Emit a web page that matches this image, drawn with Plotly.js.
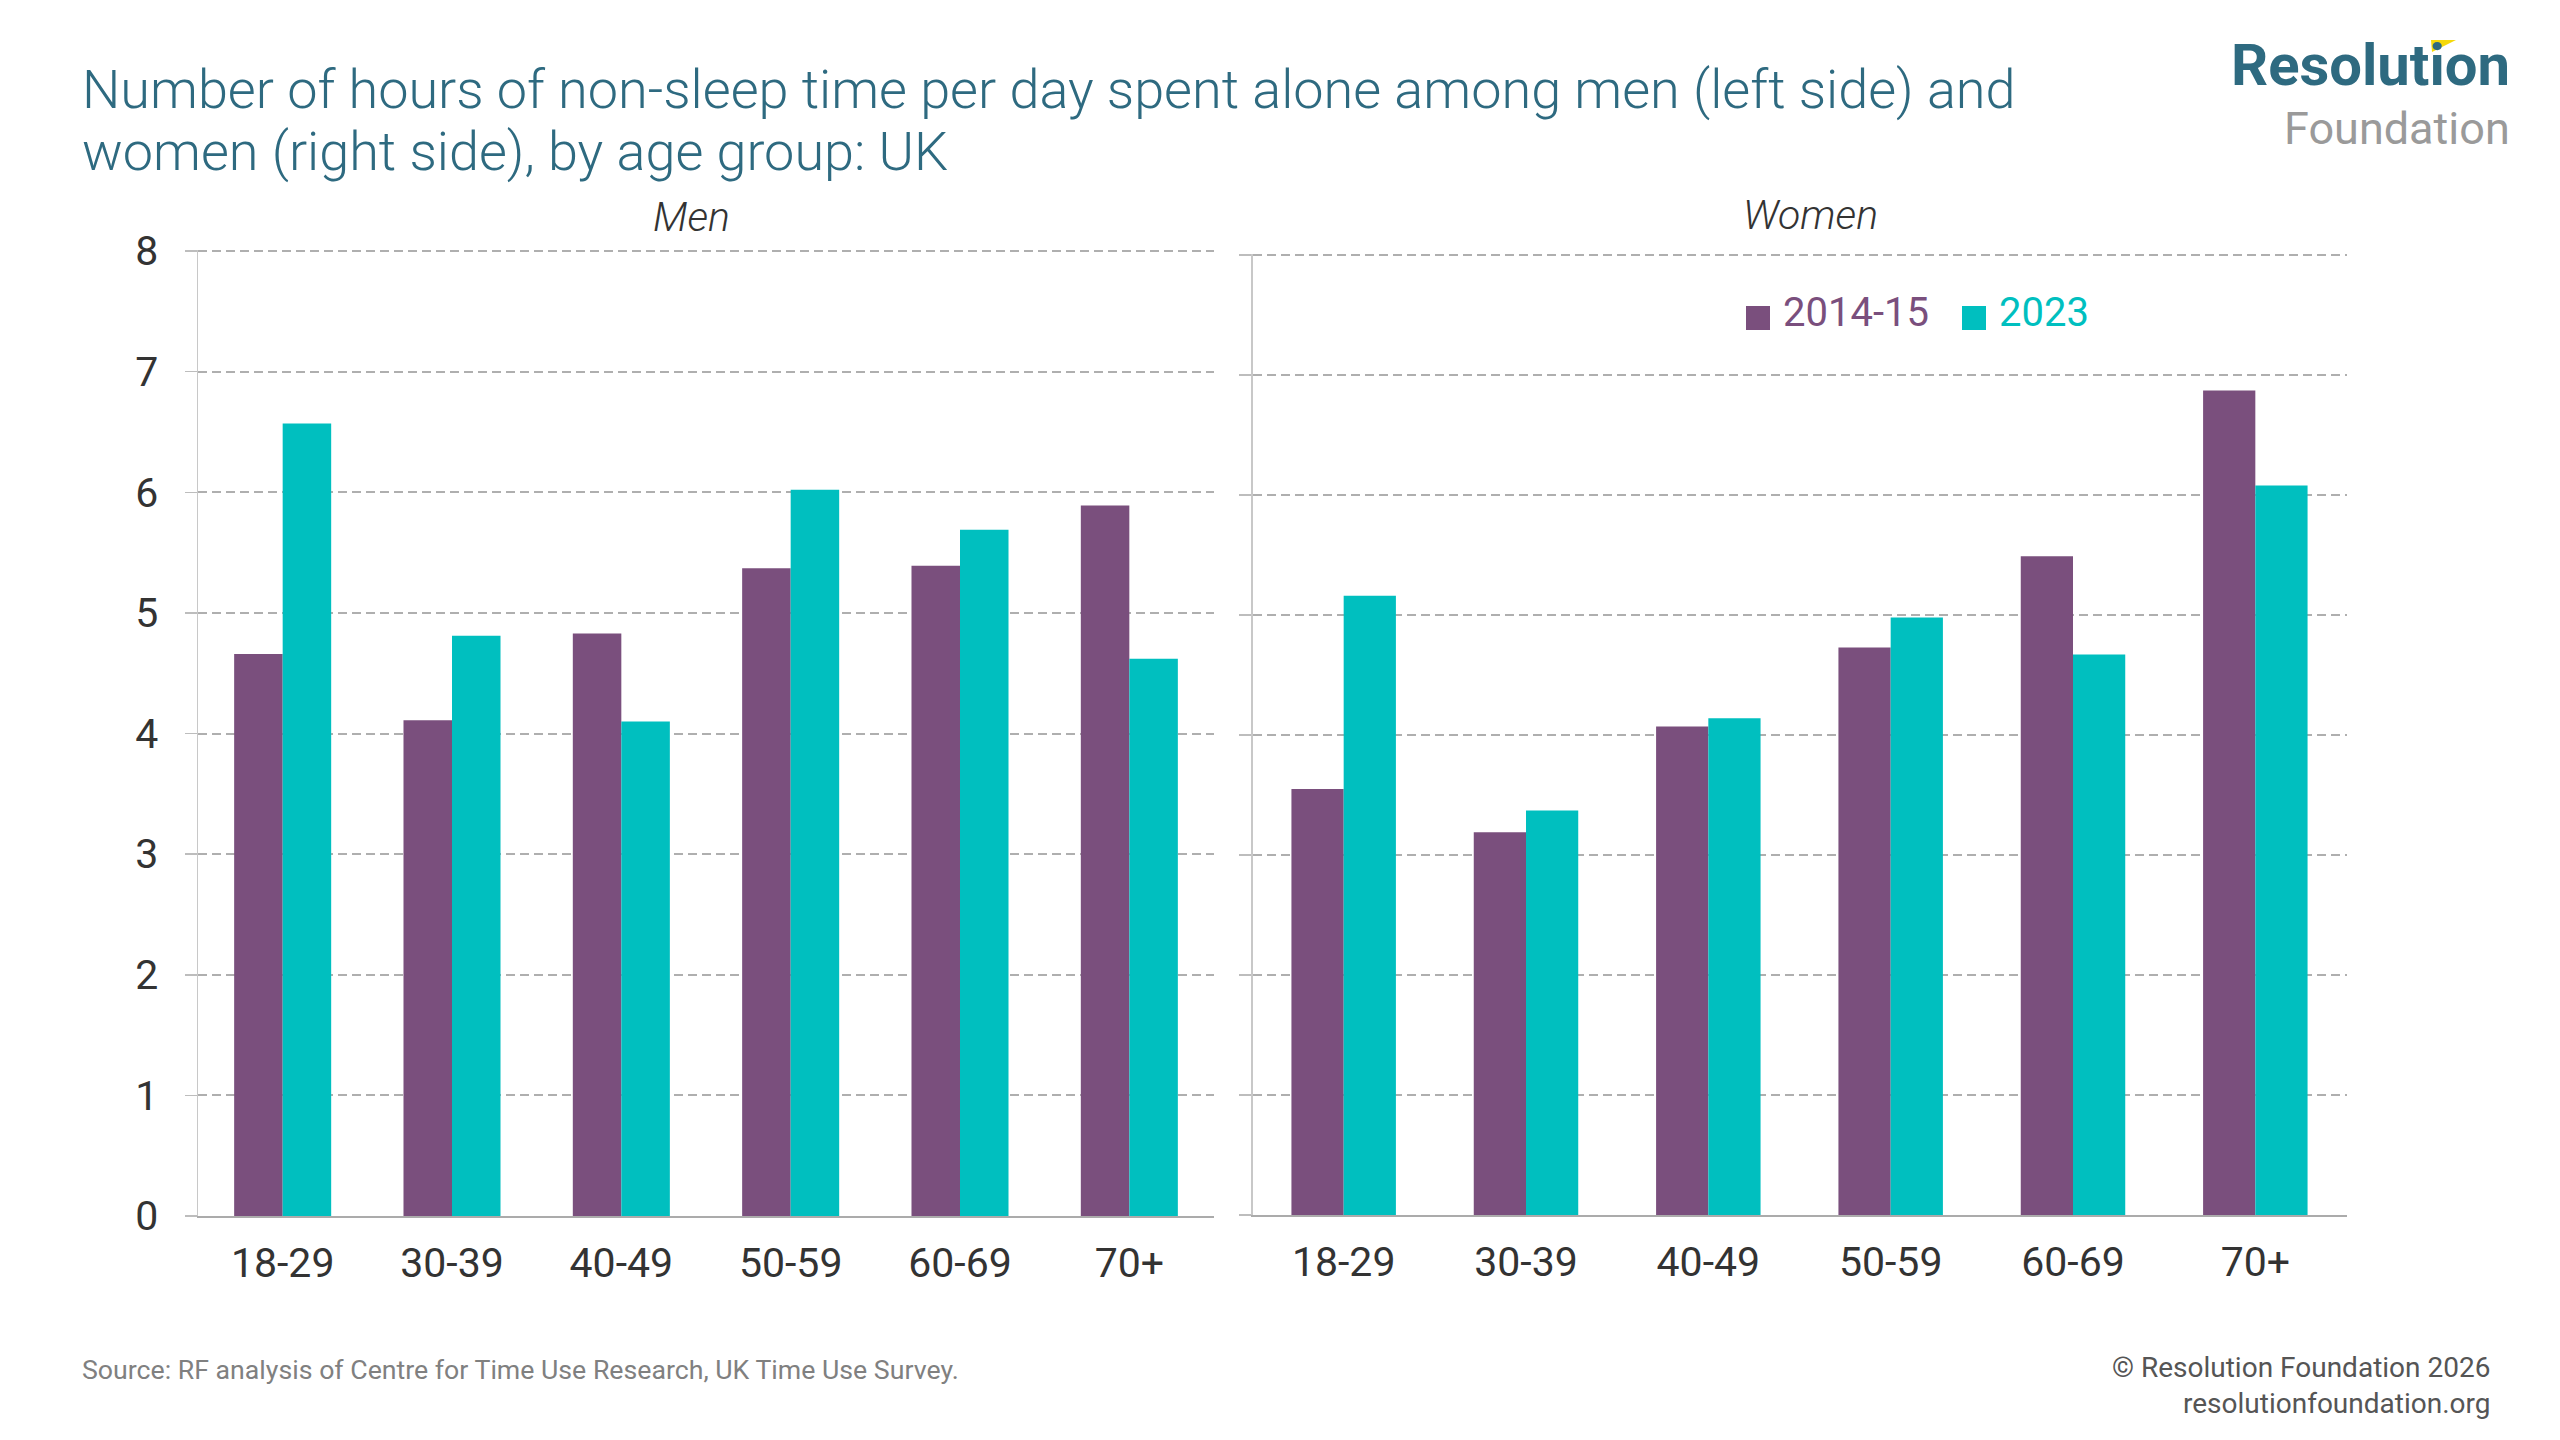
<!DOCTYPE html>
<html>
<head>
<meta charset="utf-8">
<script src="https://cdn.plot.ly/plotly-3.0.1.min.js"></script>
<style>
html,body{margin:0;padding:0;background:#ffffff;}
#chart{width:2560px;height:1440px;}
</style>
</head>
<body>
<div id="chart"></div>
<script>
// ---- Data ----
const ageGroups = ['18-29', '30-39', '40-49', '50-59', '60-69', '70+'];
const men2014 = [4.66, 4.11, 4.83, 5.37, 5.39, 5.89];
const men2023 = [6.57, 4.81, 4.10, 6.02, 5.69, 4.62];
const women2014 = [3.55, 3.19, 4.07, 4.73, 5.49, 6.87];
const women2023 = [5.16, 3.37, 4.14, 4.98, 4.67, 6.08];
const seriesNames = ['2014-15', '2023'];
const panelTitles = ['Men', 'Women'];
const yTickValues = [0, 1, 2, 3, 4, 5, 6, 7, 8];
const titleLines = [
  'Number of hours of non-sleep time per day spent alone among men (left side) and',
  'women (right side), by age group: UK'
];
const sourceText = 'Source: RF analysis of Centre for Time Use Research, UK Time Use Survey.';
const copyrightLines = ['© Resolution Foundation 2026', 'resolutionfoundation.org'];
const logoLines = ['Resolution', 'Foundation'];

// ---- Style ----
const W = 2560, H = 1440;
const px = x => x / W;
const py = y => 1 - y / H;
const FONT = 'Roboto, "Open Sans", sans-serif';
const PURPLE = '#7A4F7D';
const TEAL = '#00BFBF';
const TITLE_COL = '#2E6A80';
const GRID_COL = '#AFAFAF';
const TXT = '#333333';
const colors = [PURPLE, TEAL];

// y range slightly above 8 so the top gridline at 8 is drawn
const Y_MAX = 8.01;
// left panel: 0 at 1216px, 8 at 251px ; right panel: 0 at 1215px, 8 at 255px
const leftUnit = (1216 - 251) / 8;
const rightUnit = (1215 - 255) / 8;

function barTrace(y, i, xa, ya) {
  return {
    type: 'bar',
    x: ageGroups,
    y: y,
    name: seriesNames[i],
    xaxis: xa,
    yaxis: ya,
    marker: {color: colors[i], line: {width: 0}},
    showlegend: false,
    hoverinfo: 'x+y+name'
  };
}

const data = [
  barTrace(men2014, 0, 'x', 'y'),
  barTrace(men2023, 1, 'x', 'y'),
  barTrace(women2014, 0, 'x2', 'y2'),
  barTrace(women2023, 1, 'x2', 'y2')
];

const xCommon = {
  type: 'category',
  showgrid: false,
  zeroline: false,
  showline: true,
  linecolor: '#ABABAB',
  linewidth: 2,
  ticks: '',
  tickfont: {family: FONT, size: 41, color: TXT},
  ticklabelstandoff: 10,
  fixedrange: true
};
const yCommon = {
  range: [0, Y_MAX],
  tickvals: yTickValues,
  showgrid: true,
  gridcolor: GRID_COL,
  gridwidth: 2,
  griddash: '9px,5px',
  zeroline: false,
  showline: true,
  linecolor: '#C8C8C8',
  linewidth: 1.5,
  ticks: 'outside',
  ticklen: 12,
  tickwidth: 1.5,
  tickcolor: '#BDBDBD',
  tickfont: {family: FONT, size: 41, color: TXT},
  fixedrange: true
};

const layout = {
  width: W,
  height: H,
  autosize: false,
  margin: {l: 0, r: 0, t: 0, b: 0, pad: 0},
  paper_bgcolor: '#ffffff',
  plot_bgcolor: 'rgba(0,0,0,0)',
  font: {family: FONT, color: TXT},
  barmode: 'group',
  bargap: 0.427,
  bargroupgap: 0,
  showlegend: false,
  xaxis: Object.assign({}, xCommon, {domain: [px(198), px(1214)], anchor: 'y'}),
  yaxis: Object.assign({}, yCommon, {domain: [py(1216), py(1216 - Y_MAX * leftUnit)], anchor: 'x', ticklabelstandoff: 18}),
  xaxis2: Object.assign({}, xCommon, {domain: [px(1252.5), px(2346.5)], anchor: 'y2'}),
  yaxis2: Object.assign({}, yCommon, {domain: [py(1215), py(1215 - Y_MAX * rightUnit)], anchor: 'x2', showticklabels: false}),
  shapes: [
    // legend swatches
    {type: 'rect', xref: 'paper', yref: 'paper', x0: px(1746), x1: px(1770), y0: py(330), y1: py(306),
     fillcolor: PURPLE, line: {width: 0}},
    {type: 'rect', xref: 'paper', yref: 'paper', x0: px(1962), x1: px(1986), y0: py(330), y1: py(306),
     fillcolor: TEAL, line: {width: 0}},
    // logo accent
    {type: 'path', xref: 'paper', yref: 'paper',
     path: 'M' + px(2431) + ',' + py(40) + ' L' + px(2456) + ',' + py(40) + ' L' + px(2432) + ',' + py(52) + ' Z',
     fillcolor: '#F5D90A', line: {width: 0}, layer: 'above'}
  ],
  annotations: [
    // title
    {text: titleLines[0], xref: 'paper', yref: 'paper', x: px(80), y: py(89), xanchor: 'left', yanchor: 'middle',
     showarrow: false, font: {family: FONT, size: 54, color: TITLE_COL, weight: 300}},
    {text: titleLines[1], xref: 'paper', yref: 'paper', x: px(80), y: py(152), xanchor: 'left', yanchor: 'middle',
     showarrow: false, font: {family: FONT, size: 54, color: TITLE_COL, weight: 300}},
    // panel titles
    {text: panelTitles[0], xref: 'paper', yref: 'paper', x: px(691), y: py(217), xanchor: 'center', yanchor: 'middle',
     showarrow: false, font: {family: FONT, size: 41, color: TXT, style: 'italic', weight: 300}},
    {text: panelTitles[1], xref: 'paper', yref: 'paper', x: px(1810), y: py(215), xanchor: 'center', yanchor: 'middle',
     showarrow: false, font: {family: FONT, size: 41, color: TXT, style: 'italic', weight: 300}},
    // legend labels
    {text: seriesNames[0], xref: 'paper', yref: 'paper', x: px(1781), y: py(312), xanchor: 'left', yanchor: 'middle',
     showarrow: false, font: {family: FONT, size: 40, color: PURPLE}},
    {text: seriesNames[1], xref: 'paper', yref: 'paper', x: px(1997), y: py(312), xanchor: 'left', yanchor: 'middle',
     showarrow: false, font: {family: FONT, size: 40, color: TEAL}},
    // logo
    {text: logoLines[0], xref: 'paper', yref: 'paper', x: px(2512), y: py(65), xanchor: 'right', yanchor: 'middle',
     showarrow: false, font: {family: FONT, size: 58, color: TITLE_COL, weight: 700}},
    {text: logoLines[1], xref: 'paper', yref: 'paper', x: px(2512), y: py(128), xanchor: 'right', yanchor: 'middle',
     showarrow: false, font: {family: FONT, size: 45, color: '#9A9A9A'}},
    // footer
    {text: sourceText, xref: 'paper', yref: 'paper', x: px(80), y: py(1370), xanchor: 'left', yanchor: 'middle',
     showarrow: false, font: {family: FONT, size: 26.7, color: '#808080'}},
    {text: copyrightLines[0], xref: 'paper', yref: 'paper', x: px(2492), y: py(1367), xanchor: 'right', yanchor: 'middle',
     showarrow: false, font: {family: FONT, size: 28, color: '#555555'}},
    {text: copyrightLines[1], xref: 'paper', yref: 'paper', x: px(2492), y: py(1403), xanchor: 'right', yanchor: 'middle',
     showarrow: false, font: {family: FONT, size: 28, color: '#555555'}}
  ]
};

Plotly.newPlot('chart', data, layout, {displayModeBar: false, staticPlot: true});
</script>
</body>
</html>
